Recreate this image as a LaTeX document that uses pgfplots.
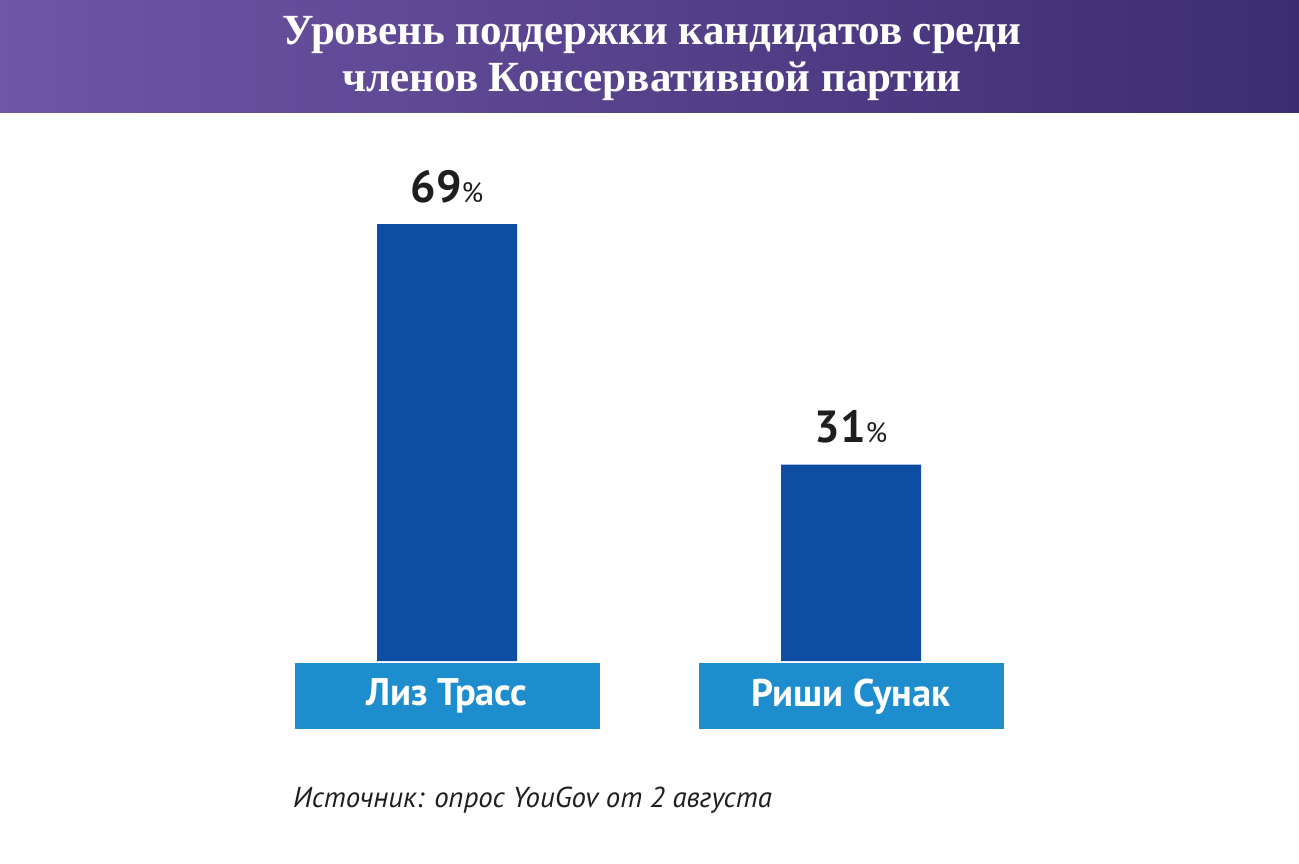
\documentclass[border=0pt]{standalone}
\usepackage{pgfplots}
\pgfplotsset{compat=1.18}
\usepackage{fontspec}
\setmainfont{PT Sans}
\newfontfamily\titlefont{Liberation Serif}
\definecolor{barblue}{RGB}{13,78,163}
\definecolor{labelblue}{RGB}{30,141,206}
\definecolor{gradL}{RGB}{112,86,166}
\definecolor{gradR}{RGB}{60,44,112}
\definecolor{txt}{RGB}{30,30,30}
\begin{document}
\begin{tikzpicture}
\useasboundingbox (0pt,0pt) rectangle (1299pt,-863pt);
\fill[white] (0pt,0pt) rectangle (1299pt,-863pt);
\shade[left color=gradL, right color=gradR] (0pt,0pt) rectangle (1299pt,-112pt);
\node[text=white, align=center, font=\titlefont\bfseries\fontsize{43}{47}\selectfont, inner sep=0pt, anchor=center] at (652pt,-58pt)
  {Уровень поддержки кандидатов среди\\членов Консервативной партии};
\begin{axis}[
  at={(245pt,-661pt)}, anchor=south west,
  scale only axis, width=808pt, height=506.67pt,
  xmin=-0.5, xmax=1.5, ymin=0, ymax=80,
  axis line style={draw=none},
  major tick length=0pt,
  ytick=\empty,
  xtick={0,1},
  xticklabels={Лиз Трасс, Риши Сунак},
  xticklabel style={fill=labelblue, text=white, minimum width=305pt, minimum height=66pt,
    inner sep=0pt, anchor=north, yshift=-2pt, font=\bfseries\fontsize{38.5}{42}\selectfont},
  ybar, bar width=140pt,
  /pgf/number format/assume math mode=true,
  nodes near coords={\pgfmathprintnumber{\pgfplotspointmeta}{\fontsize{28}{30}\selectfont\mdseries\%}},
  every node near coord/.append style={anchor=south, inner sep=0pt, yshift=21pt,
    text=txt, font=\bfseries\fontsize{45}{50}\selectfont},
]
\addplot[fill=barblue, draw=none] coordinates {(0,69) (1,31)};
\end{axis}
\node[anchor=base west, inner sep=0pt, text=txt, font=\itshape\fontsize{28.8}{32}\selectfont] at (293pt,-807pt)
  {Источник: опрос YouGov от 2 августа};
\end{tikzpicture}
\end{document}
